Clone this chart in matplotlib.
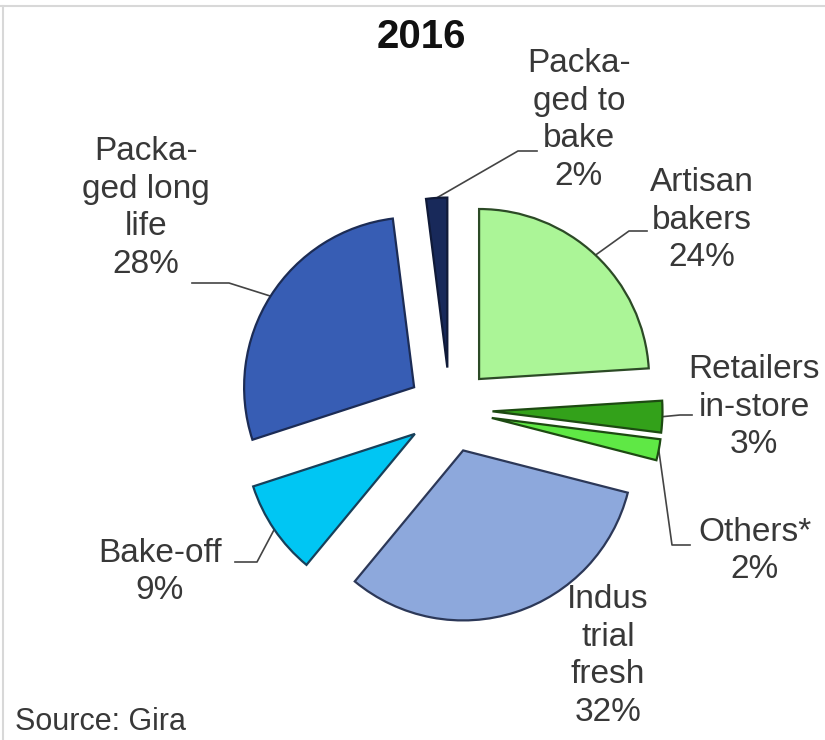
import numpy as np
import matplotlib
matplotlib.use("Agg")
import matplotlib.pyplot as plt
from matplotlib.lines import Line2D

# Bakery market shares, 2016 (clockwise from 12 o'clock)
categories = ["Artisan bakers", "Retailers in-store", "Others*", "Industrial fresh",
              "Bake-off", "Packaged long life", "Packaged to bake"]
shares = [24, 3, 2, 32, 9, 28, 2]
label_texts = ["Artisan\nbakers", "Retailers\nin-store", "Others*", "Indus\ntrial\nfresh",
               "Bake-off", "Packa-\nged long\nlife", "Packa-\nged to\nbake"]
colors = ["#abf597", "#33a11a", "#5fe845", "#8da8dc", "#00c6f3", "#375db4", "#18295a"]
edges = ["#2c4a26", "#1d4a12", "#1d4a12", "#2c3858", "#17405a", "#1c2c55", "#101a38"]

W, H, DPI = 825, 740, 100
SCALE = 170.0           # pixels per unit radius
CX, CY = 450.0, 410.0   # pie centre in pixels


def px(x, y):
    """pixel position -> data coordinates"""
    return (x - CX) / SCALE, (CY - y) / SCALE


fig = plt.figure(figsize=(W / DPI, H / DPI), dpi=DPI)
ax = fig.add_axes([0, 0, 1, 1])
x0, y1 = px(0, 0)
x1, y0 = px(W, H)

explode = [0.25] * len(shares)
wedges, _ = ax.pie(shares, colors=colors, startangle=90, counterclock=False,
                   explode=explode, radius=1.0, center=(0, 0), frame=True,
                   wedgeprops=dict(linewidth=1.6))
for w, ec in zip(wedges, edges):
    w.set_edgecolor(ec)
ax.set_xlim(x0, x1)
ax.set_ylim(y0, y1)
ax.axis("off")

# label boxes (text centre) and leader elbows, in pixels
text_pos = [(702, 220), (754, 407), (755, 551), (608, 656),
            (160, 572), (146, 208), (579, 120)]
elbows = [[(629, 231), (647, 231)],
          [(680, 415), (692, 415)],
          [(672, 545), (690, 545)],
          None,
          [(257, 562), (235, 562)],
          [(229, 283), (192, 283)],
          [(518, 151), (537, 151)]]

font = dict(family="Liberation Sans", fontsize=24, color="#383838")
for w, share, lab, tp, el in zip(wedges, shares, label_texts, text_pos, elbows):
    ang = np.deg2rad((w.theta1 + w.theta2) / 2)
    cxw, cyw = w.center
    ax.text(*px(*tp), f"{lab}\n{share}%", ha="center", va="center",
            linespacing=1.28, **font)
    if el is None:
        continue
    ax_, ay_ = cxw + np.cos(ang) * 1.0, cyw + np.sin(ang) * 1.0
    pts = [(ax_, ay_)] + [px(*p) for p in el]
    xs, ys = zip(*pts)
    ax.add_line(Line2D(xs, ys, color="#444444", lw=1.2, zorder=0.5))

ax.text(*px(421, 37), "2016", ha="center", va="center", fontsize=29,
        fontweight="bold", family="Liberation Sans", color="#111111")
ax.text(*px(15, 722), "Source: Gira", ha="left", va="center", fontsize=22,
        family="Liberation Sans", color="#383838")

# thin grey frame at top and left
fig.add_artist(Line2D([0, 1], [1 - 6 / H, 1 - 6 / H], transform=fig.transFigure,
                      color="#d8d8d8", lw=1.5))
fig.add_artist(Line2D([3 / W, 3 / W], [0, 1 - 6 / H], transform=fig.transFigure,
                      color="#d8d8d8", lw=1.5))

fig.savefig("out.png", dpi=DPI, facecolor="white")
